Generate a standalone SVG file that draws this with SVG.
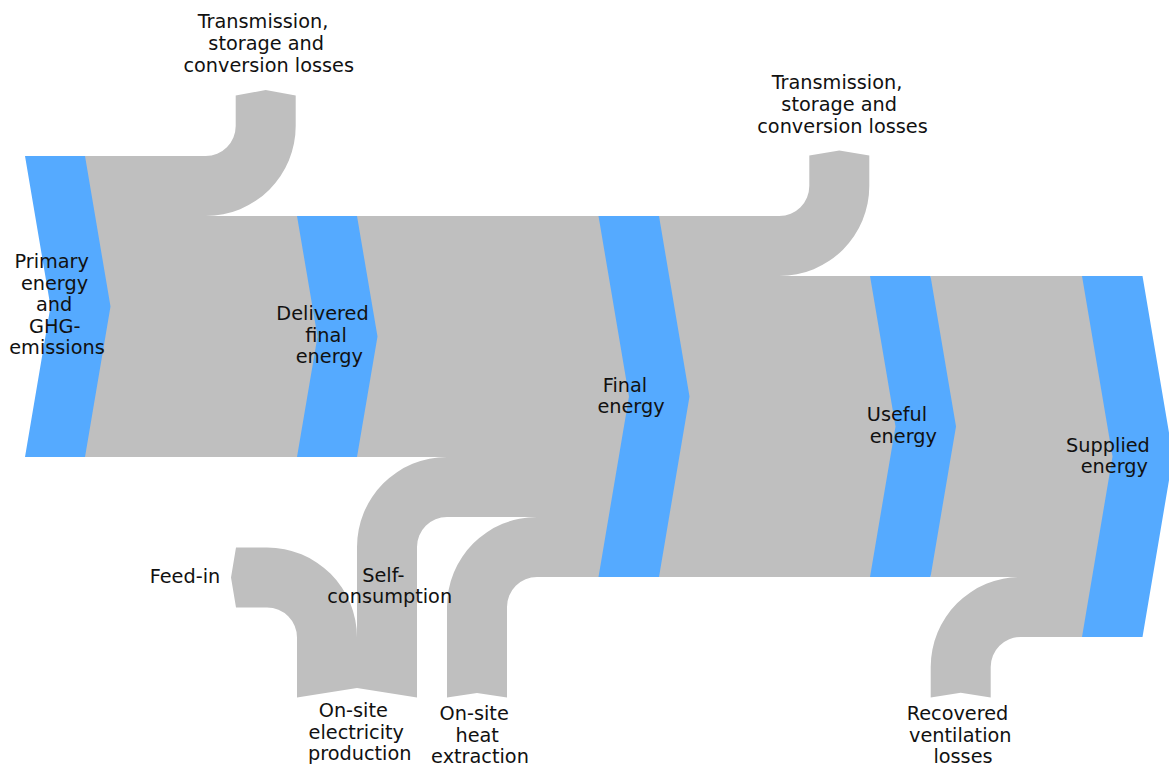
<svg xmlns="http://www.w3.org/2000/svg" width="1169" height="767" viewBox="0 0 1169 767">
<style>
.flow{fill:#bfbfbf;stroke:none}
.stage{fill:#55aaff;stroke:none}
text{font-family:"DejaVu Sans","Liberation Sans",sans-serif;font-size:19.3px;fill:#111;text-anchor:middle}
</style>
<rect width="1169" height="767" fill="#fff"/>
<g id="connectors">
<path class="flow" d="M85,156 H205.7 A30,30 0 0 0 235.7,126 V95.5 L265.7,90 L295.7,95.5 V126 A90,90 0 0 1 205.7,216 H320 V457 H85 Z"/>
<path class="flow" d="M357,216 H645 V457 H357 Z"/>
<path class="flow" d="M357,547 A90,90 0 0 1 447,457 H645 V517 H447 A30,30 0 0 0 417,547 V697.5 L357,688 Z"/>
<path class="flow" d="M447,607 A90,90 0 0 1 537,517 H645 V577 H537 A30,30 0 0 0 507,607 V697.5 L477,693 L447,697.5 Z"/>
<path class="flow" d="M357,688 L297,697.5 V637.5 A30,30 0 0 0 267,607.5 H236 L231,577.5 L236,547.5 H267 A90,90 0 0 1 357,637.5 Z"/>
<path class="flow" d="M659,216 H779.3 A30,30 0 0 0 809.3,186 V155.5 L839.3,150.5 L869.3,155.5 V186 A90,90 0 0 1 779.3,276 H910 V577 H659 Z"/>
<path class="flow" d="M930.5,276 H1125 V637 H1020.7 A30,30 0 0 0 990.7,667 V697.5 L960.7,692.8 L930.7,697.5 V667 A90,90 0 0 1 1020.7,577 H930.5 Z"/>
</g>
<g id="primary">
<polygon class="stage" points="25,156 85,156 110.5,306.5 85,457 25,457 50.5,306.5"/>
<text x="51.7" y="268.3">Primary</text>
<text x="54.5" y="289.8">energy</text>
<text x="54.2" y="311.3">and</text>
<text x="54.7" y="332.8">GHG-</text>
<text x="57" y="354.3">emissions</text>
</g>
<g id="delivered">
<polygon class="stage" points="297,216 357,216 377.5,336.5 357,457 297,457 317.5,336.5"/>
<text x="322.5" y="320">Delivered</text>
<text x="326" y="341.5">final</text>
<text x="329.3" y="363">energy</text>
</g>
<g id="final">
<polygon class="stage" points="598.5,216 659,216 689.5,396.5 659,577 598.5,577 629,396.5"/>
<text x="625" y="391.7">Final</text>
<text x="631" y="413.3">energy</text>
</g>
<g id="useful">
<polygon class="stage" points="870,276 930.5,276 956,426.5 930.5,577 870,577 895.5,426.5"/>
<text x="897" y="421">Useful</text>
<text x="903.3" y="442.5">energy</text>
</g>
<g id="supplied">
<polygon class="stage" points="1082,276 1142.5,276 1173,456.5 1142.5,637 1082,637 1112.5,456.5"/>
<text x="1108" y="451.7">Supplied</text>
<text x="1114.3" y="473.2">energy</text>
</g>
<g id="losses1">
<text x="263" y="27.5">Transmission,</text>
<text x="266.2" y="49.5">storage and</text>
<text x="268.7" y="71.5">conversion losses</text>
</g>
<g id="losses2">
<text x="837" y="89">Transmission,</text>
<text x="839.2" y="111">storage and</text>
<text x="842.5" y="132.5">conversion losses</text>
</g>
<g id="feedin">
<text x="185" y="583.3">Feed-in</text>
</g>
<g id="selfconsumption">
<text x="383.3" y="581.7">Self-</text>
<text x="389.7" y="603.2">consumption</text>
</g>
<g id="onsite-electricity">
<text x="353.3" y="717">On-site</text>
<text x="356.3" y="738.5">electricity</text>
<text x="359.7" y="760">production</text>
</g>
<g id="onsite-heat">
<text x="474.2" y="720">On-site</text>
<text x="477.2" y="741.5">heat</text>
<text x="480" y="763">extraction</text>
</g>
<g id="recovered">
<text x="957.5" y="720">Recovered</text>
<text x="960.3" y="741.5">ventilation</text>
<text x="963" y="763">losses</text>
</g>
</svg>
